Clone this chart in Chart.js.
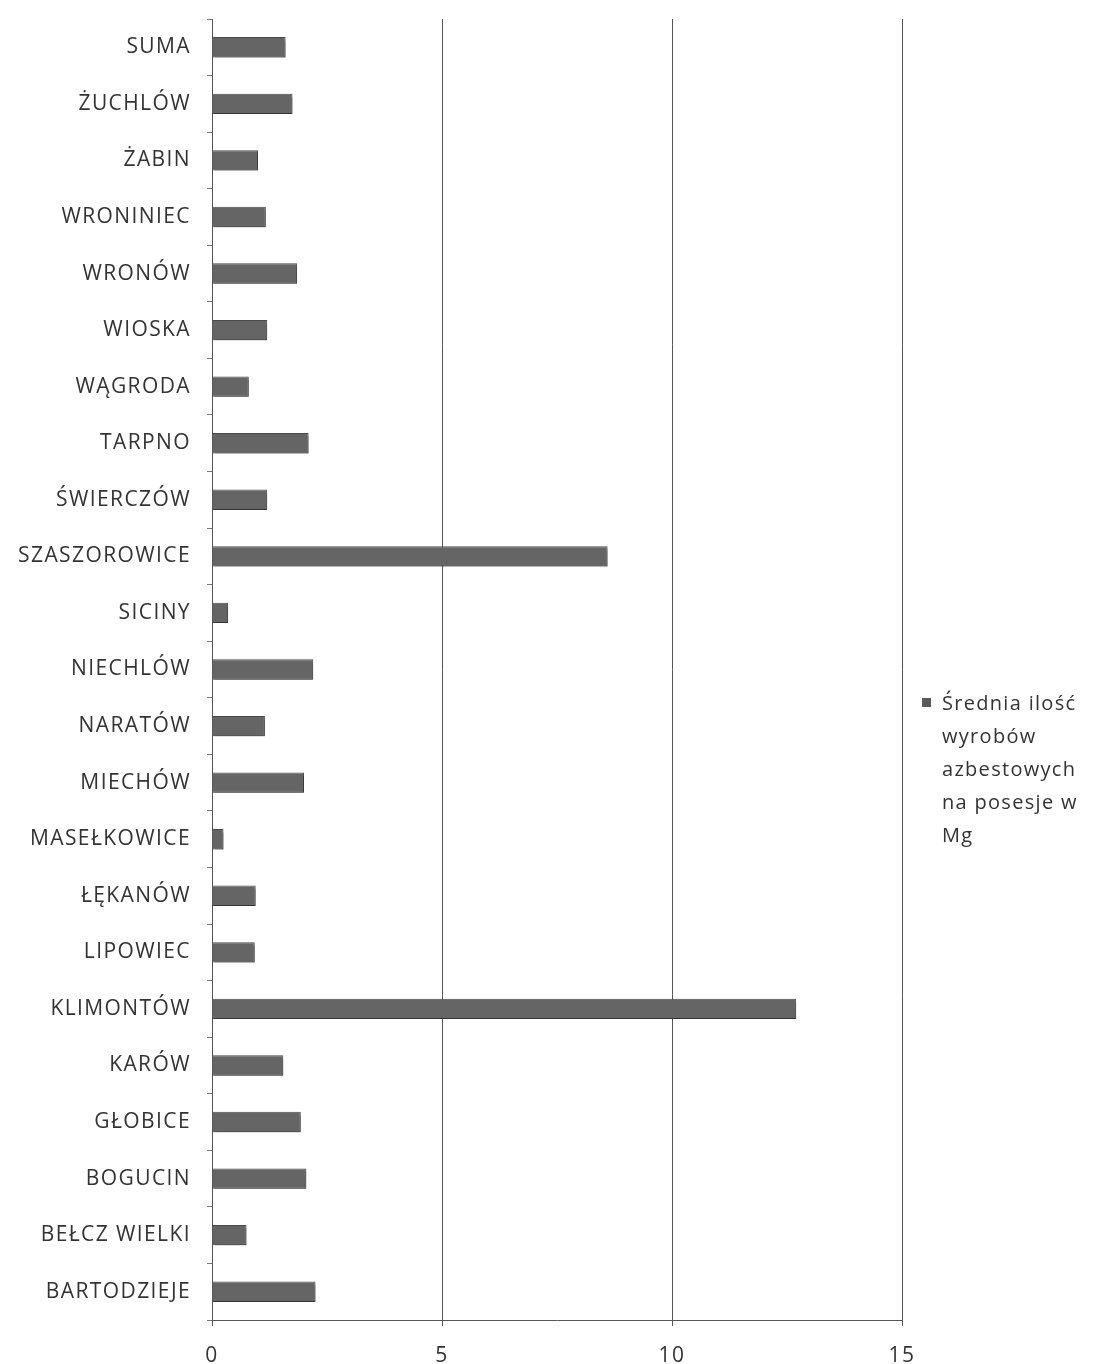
<!DOCTYPE html>
<html><head><meta charset="utf-8">
<script src="https://cdn.jsdelivr.net/npm/chart.js@4/dist/chart.umd.min.js"></script>
<style>
html,body{margin:0;padding:0;background:#fff;}
#wrap{position:relative;width:1097px;height:1364px;}
#legend{position:absolute;left:920px;top:686px;font-family:"Open Sans",sans-serif;font-size:20px;letter-spacing:1.3px;line-height:33px;color:#333;width:177px;}
#legend .sw{position:absolute;left:2px;top:12px;width:9px;height:9px;background:#5a5a5a;}
#legend .t{position:absolute;left:22px;top:0;width:160px;}
</style></head>
<body><div id="wrap"><canvas id="c" width="1097" height="1364"></canvas>
<div id="legend"><span class="sw"></span><div class="t">Średnia ilość<br>wyrobów<br>azbestowych<br>na posesje w<br>Mg</div></div></div>
<script>
const categories = ["BARTODZIEJE","BEŁCZ WIELKI","BOGUCIN","GŁOBICE","KARÓW","KLIMONTÓW","LIPOWIEC","ŁĘKANÓW","MASEŁKOWICE","MIECHÓW","NARATÓW","NIECHLÓW","SICINY","SZASZOROWICE","ŚWIERCZÓW","TARPNO","WĄGRODA","WIOSKA","WRONÓW","WRONINIEC","ŻABIN","ŻUCHLÓW","SUMA"];
const values = [2.25,0.75,2.05,1.93,1.55,12.7,0.93,0.95,0.25,2.0,1.15,2.2,0.35,8.6,1.2,2.1,0.8,1.2,1.85,1.17,1.0,1.75,1.6];
const seriesLabel = "Średnia ilość wyrobów azbestowych na posesje w Mg";
const xTicks = [0,5,10,15];

const spacing = {
  id:'spacing',
  beforeInit(chart){chart.ctx.letterSpacing='1.4px';},
  beforeDraw(chart){chart.ctx.letterSpacing='1.4px';}
};
const shadow = {
  id:'shadow',
  beforeDatasetsDraw(chart){const c=chart.ctx;c.save();c.shadowColor='rgba(0,0,0,0.3)';c.shadowOffsetY=3;c.shadowOffsetX=1;c.shadowBlur=2;},
  afterDatasetsDraw(chart){chart.ctx.restore();}
};

new Chart(document.getElementById('c'),{
  type:'bar',
  data:{labels:categories,datasets:[{label:seriesLabel,data:values,backgroundColor:'#656565',borderColor:'#4a4a4a',borderWidth:1,barPercentage:0.36,categoryPercentage:1}]},
  options:{
    indexAxis:'y',responsive:false,animation:false,
    layout:{padding:{top:19,right:195,left:0,bottom:0}},
    plugins:{legend:{display:false},tooltip:{enabled:false}},
    scales:{
      x:{min:0,max:15,
        afterBuildTicks(s){s.ticks=xTicks.map(v=>({value:v}));},
        afterFit(s){s.height=44;},
        grid:{color:'#555',lineWidth:1,drawTicks:true,tickLength:6,tickColor:'#555'},
        border:{color:'#555'},
        ticks:{color:'#333',font:{family:'"Open Sans"',size:21},padding:17}},
      y:{reverse:true,
        afterFit(s){s.width=212;s.paddingTop=0;s.paddingBottom=0;},
        grid:{drawOnChartArea:false,drawTicks:true,tickLength:5,color:'#777',offset:true},
        border:{color:'#555'},
        ticks:{color:'#333',font:{family:'"Open Sans"',size:21},padding:16}}
    }
  },
  plugins:[spacing,shadow]
});
</script></body></html>
